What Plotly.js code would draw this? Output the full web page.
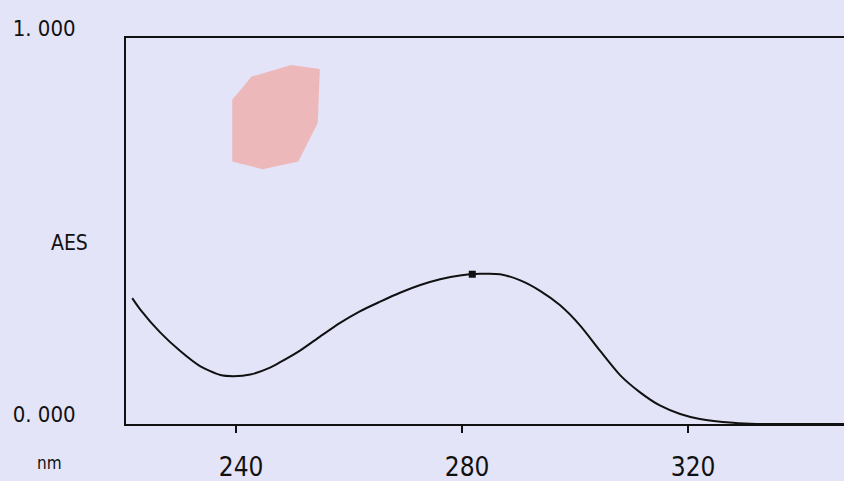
<!DOCTYPE html>
<html>
<head>
<meta charset="utf-8">
<script src="https://cdn.plot.ly/plotly-3.0.1.min.js"></script>
<style>html,body{margin:0;padding:0;background:#e4e4f8;}#chart{width:844px;height:481px;}</style>
</head>
<body>
<div id="chart"></div>
<script>
// Wavelength (nm) and absorbance
const wavelength = [221.6, 223.0, 226.5, 230.1, 233.6, 237.2, 239.5, 242.5, 246.0, 247.8, 251.3, 254.9, 258.4, 261.9, 265.5, 269.0, 272.6, 276.1, 279.6, 283.2, 286.7, 290.3, 293.8, 297.3, 300.9, 304.4, 308.0, 311.5, 315.0, 318.6, 322.1, 328.0, 332.2, 340.0, 347.6];
const absorbance = [0.326, 0.297, 0.238, 0.189, 0.150, 0.127, 0.124, 0.128, 0.146, 0.160, 0.190, 0.227, 0.262, 0.292, 0.317, 0.340, 0.360, 0.375, 0.385, 0.389, 0.388, 0.372, 0.345, 0.308, 0.255, 0.190, 0.126, 0.082, 0.048, 0.026, 0.013, 0.003, 0.000, 0.000, 0.000];
const peakWavelength = [281.8];
const peakAbsorbance = [0.388];
const xTickVals = [240, 280, 320];
const xTickText = ["240", "280", "320"];
const yTickVals = [0, 1];
const yTickText = ["0. 000", "1. 000"];

const font = "'Liberation Sans Narrow', 'DejaVu Sans Condensed', 'Liberation Sans', sans-serif";

const traces = [
  {x: wavelength, y: absorbance, type: 'scatter', mode: 'lines', line: {color: '#111', width: 2, shape: 'spline', smoothing: 0.7}, hoverinfo: 'skip', showlegend: false},
  {x: peakWavelength, y: peakAbsorbance, type: 'scatter', mode: 'markers', marker: {color: '#111', size: 7, symbol: 'square'}, hoverinfo: 'skip', showlegend: false}
];

const layout = {
  width: 844, height: 481,
  margin: {l: 126, r: 0, t: 38, b: 57},
  paper_bgcolor: '#e4e4f8',
  plot_bgcolor: 'rgba(0,0,0,0)',
  showlegend: false,
  xaxis: {
    range: [220.5, 347.6], showgrid: false, zeroline: false,
    showline: true, mirror: true, linecolor: '#111', linewidth: 2,
    tickmode: 'array', tickvals: xTickVals, ticktext: xTickText,
    ticks: 'outside', ticklen: 7, tickwidth: 1.5, tickcolor: '#111',
    ticklabelstandoff: 12, ticklabelshift: 5,
    tickfont: {family: font, size: 26, color: '#111'}
  },
  yaxis: {
    range: [0, 1], showgrid: false, zeroline: false,
    showline: true, mirror: false, linecolor: '#111', linewidth: 2,
    tickmode: 'array', tickvals: yTickVals, ticktext: yTickText,
    ticks: '', ticklabelstandoff: 44, ticklabelshift: -10,
    tickfont: {family: font, size: 22, color: '#111'}
  },
  annotations: [
    {text: 'AES', xref: 'paper', yref: 'paper', x: -0.078, y: 0.47, xanchor: 'center', yanchor: 'middle', showarrow: false, font: {family: font, size: 21, color: '#111'}},
    {text: 'nm', xref: 'paper', yref: 'paper', x: -0.106, y: -0.1, xanchor: 'center', yanchor: 'middle', showarrow: false, font: {family: font, size: 17, color: '#111'}}
  ],
  shapes: [
    {type: 'path', xref: 'paper', yref: 'paper', layer: 'below',
     path: 'M 0.148 0.84 L 0.175 0.9 L 0.23 0.93 L 0.27 0.92 L 0.267 0.78 L 0.24 0.68 L 0.19 0.66 L 0.148 0.68 Z',
     fillcolor: 'rgba(240,170,165,0.75)', line: {width: 0}}
  ]
};

Plotly.newPlot('chart', traces, layout, {staticPlot: true, displayModeBar: false});
</script>
</body>
</html>
